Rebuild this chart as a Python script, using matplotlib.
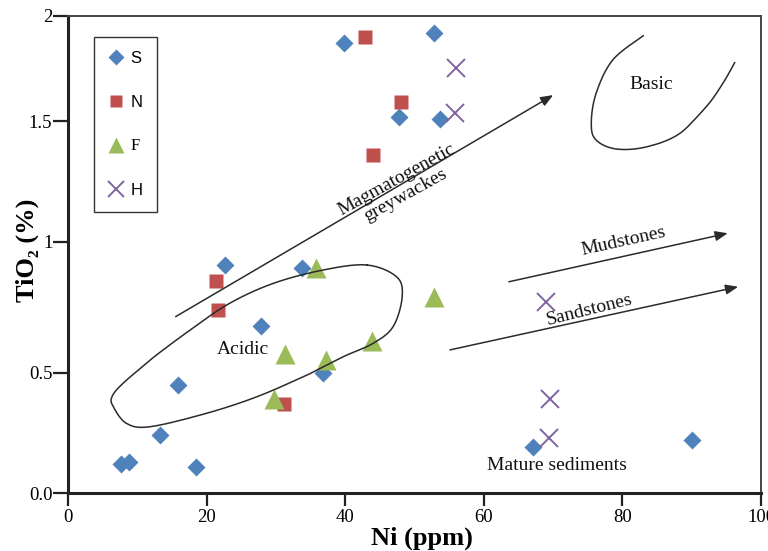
import numpy as np
import matplotlib
matplotlib.use("Agg")
import matplotlib.pyplot as plt

# Ni (ppm) vs TiO2 (%) for the four sample groups
s_ni = [39.8, 52.8, 47.7, 53.6, 22.6, 33.8, 27.8, 36.7, 15.8, 13.2, 7.6, 8.7, 18.5, 67.1, 90.1]
s_ti = [1.87, 1.92, 1.52, 1.51, 0.91, 0.90, 0.68, 0.50, 0.45, 0.24, 0.12, 0.13, 0.11, 0.19, 0.22]
n_ni = [42.9, 48.0, 44.0, 21.3, 21.6, 31.2]
n_ti = [1.90, 1.59, 1.36, 0.85, 0.74, 0.37]
f_ni = [35.7, 31.3, 37.2, 43.8, 29.7, 52.8]
f_ti = [0.90, 0.57, 0.55, 0.62, 0.39, 0.79]
h_ni = [55.9, 55.8, 68.9, 69.6, 69.4]
h_ti = [1.75, 1.54, 0.77, 0.39, 0.23]

# field outlines (Ni, TiO2)
acidic_ni = [43.1, 47.4, 48.2, 46.9, 44.0, 39.7, 33.9, 27.2, 20.0, 11.8,
             8.4, 6.5, 6.3, 7.9, 11.8, 17.6, 23.3, 29.6, 36.8]
acidic_ti = [0.911, 0.866, 0.790, 0.676, 0.612, 0.561, 0.483, 0.400, 0.332, 0.276,
             0.290, 0.359, 0.400, 0.456, 0.548, 0.663, 0.765, 0.841, 0.892]
basic_ni = [83.0, 78.6, 76.2, 75.5, 76.2, 79.1, 83.5, 88.3, 92.1, 94.5, 96.2]
basic_ti = [1.905, 1.790, 1.632, 1.490, 1.421, 1.384, 1.393, 1.449, 1.568, 1.679, 1.777]

# trend arrows: (start Ni, start TiO2, end Ni, end TiO2)
trends = {
    "magmato": (15.5, 0.714, 70.0, 1.623),
    "mud": (63.6, 0.847, 95.2, 1.035),
    "sand": (55.1, 0.587, 96.7, 0.828),
}

y_ticks = [0, 0.5, 1, 1.5, 2]
y_ticklabels = ["0.0", "0.5", "1", "1.5", "2"]
x_ticks = [0, 20, 40, 60, 80, 100]

# the original y axis is not evenly spaced; pixel height of each tick
y_tick_h = [0, 120.6, 251.6, 372.3, 477.6]


def fwd(v):
    return np.interp(v, y_ticks, y_tick_h)


def inv(h):
    return np.interp(h, y_tick_h, y_ticks)


def catmull(xs, ys, closed=True, n=14):
    p = np.column_stack([xs, ys])
    if not closed:
        p = np.vstack([p[0], p, p[-1]])
    m = len(p)
    segs = []
    rng = range(m) if closed else range(1, m - 2)
    t = np.linspace(0, 1, n, endpoint=False)[:, None]
    for i in rng:
        p0, p1, p2, p3 = p[i - 1], p[i], p[(i + 1) % m], p[(i + 2) % m]
        segs.append(0.5 * (2 * p1 + (p2 - p0) * t
                           + (2 * p0 - 5 * p1 + 4 * p2 - p3) * t ** 2
                           + (3 * p1 - p0 - 3 * p2 + p3) * t ** 3))
    segs.append(p[:1] if closed else p[-2:-1])
    out = np.vstack(segs)
    return out[:, 0], out[:, 1]


plt.rcParams["font.family"] = ["Liberation Serif", "DejaVu Serif"]

fig = plt.figure(figsize=(7.68, 5.51), dpi=100)
ax = fig.add_axes([68.3 / 768, 1 - 493.3 / 551, 692.7 / 768, 477.6 / 551])
ax.set_yscale("function", functions=(fwd, inv))

ax.plot(s_ni, s_ti, "D", color="#4F81BD", ms=9.5, mec="none", label="S", zorder=2)
ax.plot(n_ni, n_ti, "s", color="#C0504D", ms=10, mec="none", label="N", zorder=2)
ax.plot(f_ni, f_ti, "^", color="#9BBB59", ms=14, mec="none", label="F", zorder=2)
ax.plot(h_ni, h_ti, "x", color="#8064A2", ms=13, mew=1.4, label="H", zorder=2)

line_col = "#2b2b2b"
cx, cy = catmull(acidic_ni, acidic_ti)
ax.plot(cx, cy, color=line_col, lw=1.1, zorder=3)
bx, by = catmull(basic_ni, basic_ti, closed=False)
ax.plot(bx, by, color=line_col, lw=1.1, zorder=3)

for x0, y0, x1, y1 in trends.values():
    ax.annotate("", xy=(x1, y1), xytext=(x0, y0),
                arrowprops=dict(arrowstyle="-|>,head_length=0.5,head_width=0.2",
                                color=line_col, lw=1.1, shrinkA=0, shrinkB=0,
                                mutation_scale=15), zorder=3)

txt = dict(fontsize=14, ha="center", va="center", rotation_mode="anchor", color="#111")
ax.text(84.2, 1.671, "Basic", **txt)
ax.text(25.2, 0.590, "Acidic", **txt)
ax.text(70.6, 0.117, "Mature sediments", **txt)
ax.text(48.0, 1.225, "Magmatogenetic\ngreywackes", rotation=29, linespacing=1.1, **txt)
ax.text(80.1, 1.0, "Mudstones", rotation=12.5, **txt)
ax.text(75.3, 0.739, "Sandstones", rotation=14, **txt)

ax.set_xlim(0, 100)
ax.set_ylim(0, 2)
ax.set_xticks(x_ticks)
ax.set_xticklabels([str(v) for v in x_ticks])
ax.set_yticks(y_ticks)
ax.set_yticklabels(y_ticklabels)
ax.minorticks_off()

for side in ["left", "bottom"]:
    ax.spines[side].set_linewidth(2.2)
    ax.spines[side].set_color("#222")
for side in ["top", "right"]:
    ax.spines[side].set_linewidth(1.4)
    ax.spines[side].set_color("#444")

ax.tick_params(axis="x", direction="out", length=9.5, width=1.6, pad=2,
               labelsize=13.5, color="#222")
ax.tick_params(axis="y", direction="out", length=10.5, width=1.6, pad=1,
               labelsize=13.5, color="#222")

ax.set_xlabel("Ni (ppm)", fontsize=19, fontweight="bold", va="center")
ax.xaxis.set_label_coords(0.5106, -0.0936)
ax.set_ylabel("TiO₂ (%)", fontsize=19, fontweight="bold", va="center")
ax.yaxis.set_label_coords(-0.0596, 0.509)

leg = ax.legend(loc="upper left", bbox_to_anchor=(0.0375, 0.956), borderaxespad=0,
                fontsize=12, borderpad=0.86, labelspacing=1.72, handlelength=0.9,
                handletextpad=0.4, markerscale=0.85, fancybox=False,
                edgecolor="#333", framealpha=1, numpoints=1)
leg.get_frame().set_linewidth(1.0)
for t in leg.get_texts():
    if t.get_text() != "F":
        t.set_fontfamily("Liberation Sans")

fig.savefig("out.png", dpi=100)
